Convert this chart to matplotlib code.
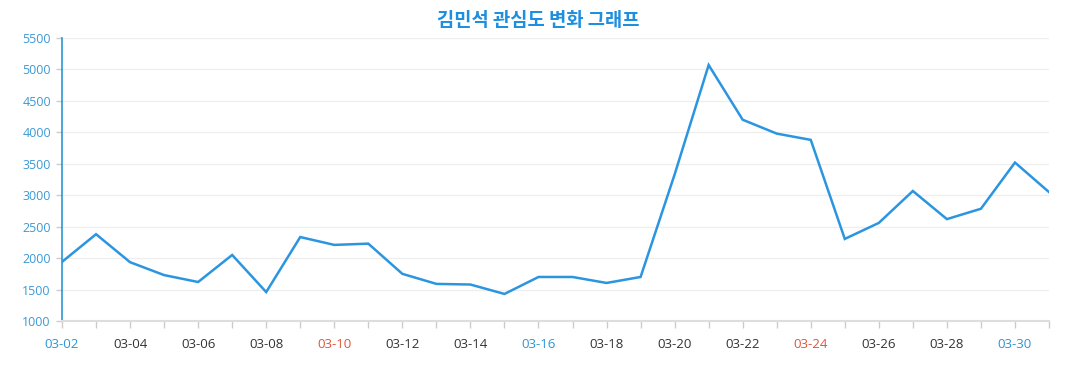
import matplotlib

matplotlib.use("Agg")

import matplotlib.pyplot as plt

plt.rcParams["font.family"] = ["Open Sans", "Noto Sans CJK KR", "DejaVu Sans"]

# daily interest values, 03-02 .. 03-31
dates = [f"03-{d:02d}" for d in range(2, 32)]
values = [
    1940, 2380, 1935, 1730, 1620, 2050, 1460, 2335, 2210, 2230,
    1750, 1590, 1580, 1430, 1700, 1700, 1605, 1700, 3330, 5070,
    4200, 3980, 3880, 2305, 2560, 3067, 2620, 2785, 3520, 3050,
]
label_colors = {"03-02": "#2a96d3", "03-16": "#2a96d3", "03-30": "#2a96d3",
                "03-10": "#e0533a", "03-24": "#e0533a"}
y_ticks = list(range(1000, 5501, 500))

W, H = 1077, 390
fig = plt.figure(figsize=(W / 100, H / 100), dpi=100)
ax = fig.add_axes((62 / W, 1 - 321 / H, (1049 - 62) / W, (321 - 38) / H))

x = list(range(len(dates)))
ax.plot(x, values, color="#2b95e0", linewidth=1.8, solid_joinstyle="miter", zorder=3)

ax.set_xlim(0, len(dates) - 1)
ax.set_ylim(1000, 5500)
ax.set_yticks(y_ticks)
ax.set_yticklabels([str(v) for v in y_ticks], fontsize=9, color="#3a9ad6")
ax.grid(True, axis="y", color="#eeeeee", linewidth=0.9)
ax.set_axisbelow(True)

ax.set_xticks(x, minor=True)
ax.set_xticks(x[::2])
ax.set_xticklabels(dates[::2], fontsize=9.5)
for lbl in ax.get_xticklabels():
    lbl.set_color(label_colors.get(lbl.get_text(), "#333333"))

ax.tick_params(axis="x", which="both", length=5, width=1, color="#cccccc", pad=7)
ax.tick_params(axis="y", length=4, width=1, color="#cccccc", pad=4)

for side in ("top", "right"):
    ax.spines[side].set_visible(False)
ax.spines["left"].set_color("#2a96d3")
ax.spines["left"].set_linewidth(1.2)
ax.spines["bottom"].set_color("#dddddd")
ax.spines["bottom"].set_linewidth(1.5)

fig.text(0.5, 1 - 20 / H, "김민석 관심도 변화 그래프", ha="center", va="center",
         fontsize=13.5, fontweight="bold", color="#1d8fe0",
         family=["Noto Sans CJK KR", "DejaVu Sans"])

fig.savefig("out.png", dpi=100)
